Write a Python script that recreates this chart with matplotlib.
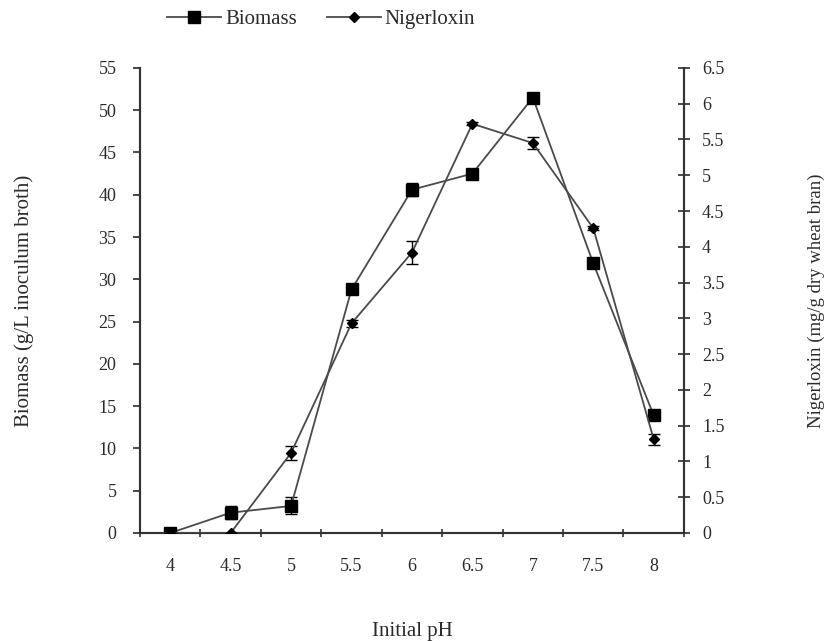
import numpy as np
import matplotlib.pyplot as plt
from matplotlib.lines import Line2D

plt.rcParams['font.family'] = ['Liberation Serif', 'DejaVu Serif']

ph_labels = ['4', '4.5', '5', '5.5', '6', '6.5', '7', '7.5', '8']
biomass = [0.0, 2.4, 3.2, 28.8, 40.6, 42.5, 51.5, 31.9, 13.9]
biomass_err = [0.1, 0.8, 1.0, 0.5, 0.8, 0.3, 0.3, 0.3, 0.5]
nigerloxin = [0.0, 0.0, 1.12, 2.93, 3.92, 5.72, 5.45, 4.26, 1.31]
nigerloxin_err = [0.0, 0.0, 0.1, 0.05, 0.16, 0.02, 0.08, 0.03, 0.08]

line_col = '#4a4a4a'
txt_col = '#2a2a2a'
x = np.arange(len(ph_labels))

fig = plt.figure(figsize=(8.26, 6.41), dpi=100)
ax = fig.add_axes([0.1695, 0.1685, 0.6585, 0.7255])
ax2 = ax.twinx()

ax.errorbar(x, biomass, yerr=biomass_err, color=line_col, lw=1.3, marker='s',
            ms=8.5, mfc='black', mec='black', ecolor='black', elinewidth=1.0,
            capsize=4, zorder=3)
ax2.errorbar(x, nigerloxin, yerr=nigerloxin_err, color=line_col, lw=1.3, marker='D',
             ms=5, mfc='black', mec='black', ecolor='black', elinewidth=1.0,
             capsize=4, zorder=3)

ax.set_xlim(-0.5, len(ph_labels) - 0.5)
ax.set_ylim(0, 55)
ax2.set_ylim(0, 6.5)
ax.set_yticks(np.arange(0, 56, 5))
ax2.set_yticks(np.arange(0, 6.51, 0.5))
ax2.set_yticklabels([f'{v:g}' for v in np.arange(0, 6.51, 0.5)])

ax.set_xticks(x)
ax.set_xticklabels(ph_labels)
ax.set_xticks(np.arange(-0.5, len(ph_labels)), minor=True)
ax.tick_params(axis='x', which='major', length=0, pad=18, labelsize=13, colors=txt_col)
ax.tick_params(axis='x', which='minor', direction='inout', length=6, width=1.2, color='#333333')
ax.tick_params(axis='y', direction='out', length=5, width=1.2, labelsize=13, colors=txt_col, pad=12)
ax2.tick_params(axis='y', direction='inout', length=8, width=1.2, labelsize=13, colors=txt_col, pad=9)

for a in (ax, ax2):
    a.spines['top'].set_visible(False)
    for s in ('left', 'right', 'bottom'):
        a.spines[s].set_linewidth(1.5)
        a.spines[s].set_color('#333333')

ax.set_xlabel('Initial pH', fontsize=15, labelpad=34, color=txt_col)
ax.set_ylabel('Biomass (g/L inoculum broth)', fontsize=15, labelpad=46, color=txt_col)
ax2.set_ylabel('Nigerloxin (mg/g dry wheat bran)', fontsize=13.5, labelpad=60, color=txt_col)

handles = [Line2D([], [], color=line_col, lw=1.3, marker='s', ms=8.5, mfc='black', mec='black'),
           Line2D([], [], color=line_col, lw=1.3, marker='D', ms=5, mfc='black', mec='black')]
fig.legend(handles=handles, labels=['Biomass', 'Nigerloxin'], loc='center',
           bbox_to_anchor=(0.389, 0.97), ncol=2, frameon=False, fontsize=15,
           handlelength=2.6, columnspacing=1.4, handletextpad=0.2,
           labelcolor=txt_col)

plt.savefig('out.png', dpi=100)
